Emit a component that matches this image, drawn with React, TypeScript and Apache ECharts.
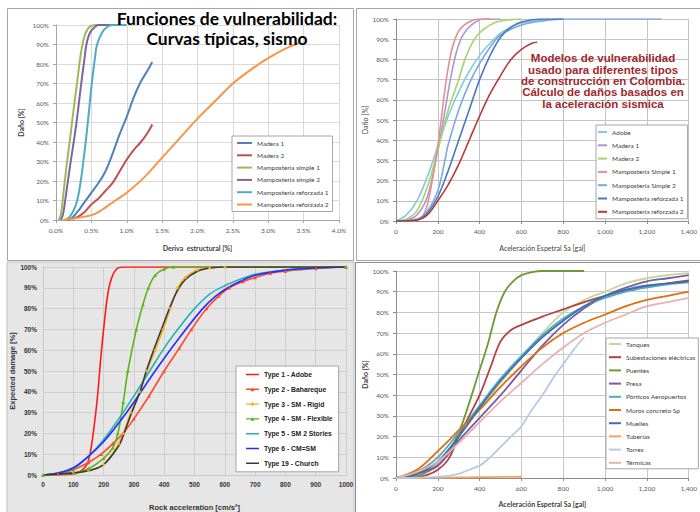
import React, { useEffect, useRef } from "react";
import * as echarts from "echarts";

const FONT_C = 'Lato, "Open Sans", sans-serif';
const FONT_A = '"Liberation Sans", Arial, sans-serif';

// ---------- Chart 1: Funciones de vulnerabilidad (deriva) ----------
const c1Title = ["Funciones de vulnerabilidad:", "Curvas típicas, sismo"];
const c1Names = ["Madera 1", "Madera 2", "Mampostería simple 1", "Mampostería simple 2", "Mampostería reforzada 1", "Mampostería reforzada 2"];
const c1Colors = ["#4f81bd", "#c0504d", "#9bbb59", "#8064a2", "#4bacc6", "#f79646"];
const c1XTicks = { min: 0, max: 4, interval: 0.5 };
const c1Madera1 = [[0.1, 0], [0.2, 0.5], [0.3, 4], [0.4, 9], [0.5, 14], [0.6, 19], [0.7, 25], [0.8, 34], [0.9, 44], [1.0, 53], [1.1, 63], [1.2, 71], [1.3, 77], [1.36, 81]];
const c1Madera2 = [[0.15, 0], [0.3, 1.5], [0.4, 4], [0.5, 8], [0.6, 11], [0.7, 15], [0.8, 19], [0.9, 25], [1.0, 31], [1.1, 36], [1.2, 40], [1.3, 45], [1.36, 49]];
const c1Simple1 = [[0.04, 0], [0.07, 3], [0.1, 12], [0.15, 28], [0.2, 42], [0.25, 57], [0.3, 71], [0.35, 85], [0.4, 94], [0.45, 98], [0.5, 99.6], [0.6, 100]];
const c1Simple2 = [[0.07, 0], [0.1, 3], [0.13, 10], [0.2, 28], [0.25, 40], [0.29, 50], [0.35, 68], [0.4, 82], [0.43, 90], [0.48, 96], [0.55, 99], [0.6, 100], [0.9, 100]];
const c1Reforz1 = [[0.14, 0], [0.2, 2], [0.25, 5], [0.3, 10], [0.35, 20], [0.4, 34], [0.45, 50], [0.5, 68], [0.55, 83], [0.58, 90], [0.65, 96], [0.72, 99], [0.8, 100], [1.0, 100]];
const c1Reforz2 = [[0.1, 0], [0.3, 1], [0.5, 2.5], [0.6, 4], [0.7, 6.5], [0.84, 10], [1.0, 14], [1.25, 22], [1.5, 32], [1.75, 42], [2.0, 52], [2.25, 61], [2.5, 70], [2.75, 77], [3.0, 83], [3.25, 88], [3.45, 91]];
const c1Data = [c1Madera1, c1Madera2, c1Simple1, c1Simple2, c1Reforz1, c1Reforz2];

// ---------- Chart 2: Colombia (aceleración espectral) ----------
const c2Names = ["Adobe", "Madera 1", "Madera 2", "Mamposteria Simple 1", "Mamposteria Simple 2", "Mamposteria reforzada 1", "Mamposteria reforzada 2"];
const c2Colors = ["#7ecbe3", "#a997d0", "#a6d36a", "#e58f8f", "#7da7e0", "#4a78c0", "#b83838"];
const c2Adobe = [[0, 0], [50, 3], [100, 10], [150, 22], [200, 37], [250, 52], [300, 64], [350, 74], [400, 82], [450, 88], [500, 93], [550, 96], [600, 98], [700, 99.5], [800, 100]];
const c2Madera1 = [[0, 0], [50, 0.5], [100, 3], [150, 12], [200, 35], [230, 52], [260, 70], [290, 84], [320, 92], [360, 97], [420, 100], [500, 100]];
const c2Madera2 = [[0, 0], [50, 1], [100, 5], [150, 17], [200, 35], [250, 55], [300, 70], [330, 80], [375, 90], [420, 95], [480, 98.5], [550, 99.7], [600, 100]];
const c2Simple1 = [[0, 0], [100, 0.5], [130, 3], [150, 8], [170, 18], [190, 30], [210, 45], [230, 62], [250, 76], [270, 86], [300, 94], [340, 98], [400, 100], [450, 100]];
const c2Simple2 = [[0, 0], [100, 1], [150, 5], [200, 15], [230, 28], [250, 38], [300, 55], [350, 68], [400, 78], [450, 86], [500, 92], [600, 97], [700, 99], [800, 100], [1270, 100]];
const c2Reforz1 = [[0, 0], [100, 0.5], [150, 4], [200, 12], [250, 25], [300, 40], [350, 55], [400, 70], [450, 82], [500, 91], [550, 96], [600, 98.5], [700, 100], [800, 100]];
const c2Reforz2 = [[0, 0], [100, 0.5], [150, 3], [200, 10], [250, 18], [300, 28], [350, 40], [400, 52], [450, 63], [500, 72], [550, 80], [600, 85], [650, 88], [675, 88.5]];
const c2Data = [c2Adobe, c2Madera1, c2Madera2, c2Simple1, c2Simple2, c2Reforz1, c2Reforz2];
const c2Note = "Modelos de vulnerabilidad\nusado para diferentes tipos\nde construcción en Colombia.\nCálculo de daños basados en\nla aceleración sismica";

// ---------- Chart 3: Expected damage vs rock acceleration ----------
const c3Names = ["Type 1 - Adobe", "Type 2 - Bahareque", "Type 3 - SM - Rigid", "Type 4 - SM - Flexible", "Type 5 - SM 2 Stories", "Type 6 - CM=SM", "Type 19 - Church"];
const c3Colors = ["#ff1a1a", "#ff4a2a", "#f2b01e", "#5cb515", "#22b5b0", "#2a2aff", "#3a3a3a"];
const c3Symbols = ["none", "triangle", "diamond", "triangle", "none", "none", "none"];
const c3Type1 = [[0, 0], [100, 0.5], [140, 4], [155, 10], [170, 25], [180, 38], [190, 55], [200, 70], [215, 88], [230, 96], [250, 99.7], [270, 100], [1000, 100]];
const c3Type2 = [[0, 0], [50, 0.5], [100, 2.5], [150, 6], [192, 10], [230, 15], [264, 20], [300, 27], [350, 38], [400, 50], [450, 61], [490, 70], [540, 80], [580, 86], [615, 90], [660, 93], [700, 95], [750, 97], [800, 98], [900, 99.3], [1000, 100]];
const c3Type3 = [[0, 0], [100, 1], [150, 2], [200, 5], [250, 15], [265, 20], [290, 30], [320, 40], [343, 50], [370, 60], [396, 70], [420, 80], [445, 90], [470, 95], [510, 98.5], [550, 99.5], [600, 100], [1000, 100]];
const c3Type4 = [[0, 0], [100, 1], [150, 3], [200, 8], [230, 13], [247, 20], [265, 35], [280, 50], [308, 70], [330, 82], [348, 90], [370, 96], [400, 99], [430, 100], [1000, 100]];
const c3Type5 = [[0, 0], [50, 1], [100, 3], [150, 9], [200, 17], [250, 27], [300, 38], [352, 50], [400, 61], [450, 71], [500, 80], [550, 87], [600, 91], [650, 94], [700, 96.5], [800, 98.5], [900, 99.5], [1000, 100]];
const c3Type6 = [[0, 0], [50, 1], [100, 3.5], [150, 9], [200, 16], [250, 25], [300, 35], [370, 50], [450, 66], [527, 80], [570, 86], [610, 90], [650, 93], [700, 96], [800, 98.5], [900, 99.5], [1000, 100]];
const c3Type19 = [[0, 0], [100, 1], [150, 2], [200, 5], [250, 14], [265, 19], [290, 29], [320, 40], [343, 51], [370, 62], [396, 72], [420, 81], [445, 89], [470, 94], [510, 98], [550, 99.5], [600, 100], [1000, 100]];
const c3Data = [c3Type1, c3Type2, c3Type3, c3Type4, c3Type5, c3Type6, c3Type19];

// ---------- Chart 4: Infraestructura ----------
const c4Names = ["Tanques", "Subestaciones eléctricas", "Puentes", "Presa", "Pórticos Aeropuertos", "Muros concreto Sp", "Muelles", "Tuberías", "Torres", "Térmicas"];
const c4Colors = ["#c4d79b", "#b5403d", "#6e9a36", "#7a5aa6", "#4bacc6", "#e46c0a", "#3f6fb0", "#f9a35a", "#b4cae8", "#e8b0b0"];
const c4Tanques = [[0, 0], [100, 2], [200, 7], [300, 20], [400, 33], [500, 46], [600, 58], [700, 70], [800, 80], [900, 86], [1000, 90], [1100, 94], [1200, 96.5], [1300, 98], [1400, 99]];
const c4Subest = [[0, 0], [100, 0.5], [150, 1.5], [200, 4], [250, 9], [300, 20], [350, 30], [400, 40], [450, 53], [500, 66], [550, 71.5], [600, 74], [700, 78], [800, 81.5], [900, 85], [1000, 88], [1100, 90.5], [1200, 92.5], [1300, 94], [1400, 95.5]];
const c4Puentes = [[0, 0], [100, 1], [150, 3], [200, 6], [250, 12], [300, 22], [330, 30], [393, 50], [440, 65], [480, 80], [520, 90], [560, 95], [600, 98], [650, 99.5], [700, 100], [900, 100]];
const c4Presa = [[0, 0], [100, 2], [200, 6], [300, 18], [400, 29], [500, 40], [600, 52], [700, 64], [800, 74], [900, 82], [1000, 88], [1100, 92], [1200, 95], [1300, 96.5], [1400, 98]];
const c4Porticos = [[0, 0], [100, 3], [200, 10], [300, 22], [400, 35], [500, 48], [600, 59], [700, 69], [800, 77], [900, 83], [1000, 87], [1100, 90], [1200, 92], [1300, 93.5], [1400, 94.5]];
const c4Muros = [[0, 0], [100, 4], [200, 13], [300, 23], [400, 33], [500, 44], [600, 54], [700, 63], [800, 70], [900, 75], [1000, 79], [1100, 83], [1200, 86], [1300, 88], [1400, 90]];
const c4Muelles = [[0, 0], [100, 2], [200, 8], [300, 20], [400, 34], [500, 47], [600, 58], [700, 68], [800, 76], [900, 83], [1000, 88], [1100, 91], [1200, 93], [1300, 94], [1400, 95]];
const c4Tuberias = [[0, 0], [100, 0.1], [200, 0.2], [300, 0.3], [400, 0.4], [500, 0.5], [600, 0.6]];
const c4Torres = [[0, 0], [200, 0.5], [300, 2], [350, 4], [400, 6], [450, 10], [500, 15], [550, 20], [600, 25], [650, 33], [700, 40], [750, 48], [800, 55], [850, 62], [900, 68]];
const c4Termicas = [[0, 0], [100, 3], [200, 8], [300, 17], [400, 27], [500, 37], [600, 46], [700, 55], [800, 63], [900, 70], [1000, 75], [1100, 79], [1200, 83], [1300, 85], [1400, 87]];
const c4Data = [c4Tanques, c4Subest, c4Puentes, c4Presa, c4Porticos, c4Muros, c4Muelles, c4Tuberias, c4Torres, c4Termicas];

const pct = (v: number) => v + "%";
const thousands = (v: number) => (v >= 1000 ? Math.floor(v / 1000) + "," + String(v % 1000).padStart(3, "0") : String(v));

// legend icons (13 x 7 box; tiny corner squares fix the bounding box)
const BOX = "M0,0h0.01v0.01h-0.01Z M13,7h-0.01v-0.01h0.01Z ";
const ICON_LINE = "path://" + BOX + "M0,2.8H13V4.2H0Z";
const ICON_TRI = "path://" + BOX + "M0,2.8H13V4.2H0Z M4.6,5.4L6.5,1.6L8.4,5.4Z";
const ICON_DIA = "path://" + BOX + "M0,2.8H13V4.2H0Z M6.5,1.3L8.6,3.5L6.5,5.7L4.4,3.5Z";

function valueAxis(grid: number, min: number, max: number, interval: number, fmt: any, o: any) {
  return {
    gridIndex: grid, type: "value", min, max, interval,
    axisLine: { show: true, lineStyle: { color: o.axisColor, width: 1 } },
    axisTick: { show: o.ticks, length: 3, lineStyle: { color: o.axisColor } },
    splitLine: { show: true, lineStyle: { color: o.gridColor, width: 1 } },
    axisLabel: { formatter: fmt, fontSize: o.fs, color: o.labelColor, fontFamily: o.font, fontWeight: o.bold ? "bold" : "normal", margin: o.margin },
    name: o.name, nameLocation: "middle", nameGap: o.nameGap,
    nameTextStyle: { fontSize: o.nameFs, color: o.nameColor, fontFamily: o.font, fontWeight: o.nameBold ? "bold" : "normal" },
    z: o.z || 0,
  };
}

function legendFor(names: string[], colors: string[], o: any) {
  return {
    orient: "vertical", left: o.left, top: o.top, padding: o.padding, itemGap: o.gap,
    itemWidth: o.iw, itemHeight: o.ih, icon: o.icon,
    backgroundColor: "#ffffff", borderColor: "#a6a6a6", borderWidth: 1, borderRadius: 0,
    textStyle: { fontSize: o.fs, color: o.color, fontFamily: o.font, fontWeight: o.bold ? "bold" : "normal", lineHeight: o.lh },
    data: names.map((n, i) => ({
      name: n,
      icon: o.icons ? o.icons[i] : o.icon,
      itemStyle: { color: colors[i], borderWidth: 0 },
      lineStyle: { color: colors[i] },
    })),
    selectedMode: false, z: o.z || 4,
  };
}

function buildOption() {
  const series: any[] = [];
  const push = (names: string[], colors: string[], data: number[][][], idx: number, width: number, extra: (i: number) => any) => {
    names.forEach((n, i) => {
      series.push({
        type: "line", name: n, data: data[i], xAxisIndex: idx, yAxisIndex: idx,
        smooth: 0.35, symbol: "none",
        lineStyle: { color: colors[i], width }, itemStyle: { color: colors[i] },
        z: idx === 3 ? 5 : 2,
        ...extra(i),
      });
    });
  };
  push(c1Names, c1Colors, c1Data, 0, 2, () => ({}));
  push(c2Names, c2Colors, c2Data, 1, 1.6, () => ({}));
  push(c3Names, c3Colors, c3Data, 2, 1.6, (i) => (c3Symbols[i] === "none" ? {} : { symbol: c3Symbols[i], symbolSize: 3.5, showSymbol: true }));
  push(c4Names, c4Colors, c4Data, 3, 1.8, () => ({}));

  const c1o = { axisColor: "#a6a6a6", gridColor: "#d9d9d9", ticks: true, fs: 6.5, labelColor: "#595959", font: FONT_C, margin: 7, nameFs: 7, nameColor: "#404040", nameBold: true };
  const c2o = { axisColor: "#8c8c8c", gridColor: "#c4c4c4", ticks: true, fs: 6.5, labelColor: "#595959", font: FONT_C, margin: 7, nameFs: 7, nameColor: "#404040", nameBold: false };
  const c3o = { axisColor: "#c8c8c8", gridColor: "#cfcfcf", ticks: false, fs: 6.5, labelColor: "#333333", font: FONT_A, bold: true, margin: 6, nameFs: 7.5, nameColor: "#333333", nameBold: true };
  const c4o = { axisColor: "#8c8c8c", gridColor: "#c8c8c8", ticks: true, fs: 6.5, labelColor: "#595959", font: FONT_C, margin: 7, nameFs: 7, nameColor: "#404040", nameBold: true, z: 3 };

  const c3Icons = c3Symbols.map((s) => (s === "triangle" ? ICON_TRI : s === "diamond" ? ICON_DIA : ICON_LINE));
  const titleStyle = (t: string) => ({ text: t, fill: "#000000", font: "bold 17.5px " + FONT_C, align: "center", verticalAlign: "middle" });

  return {
    animation: false,
    graphic: {
      elements: [
        { type: "rect", z: -10, shape: { x: 7.5, y: 8.5, width: 346, height: 252 }, style: { fill: "#ffffff", stroke: "#a6a6a6", lineWidth: 1 } },
        { type: "rect", z: -10, shape: { x: 356.5, y: 8.5, width: 360, height: 252 }, style: { fill: "#ffffff", stroke: "#a6a6a6", lineWidth: 1 } },
        { type: "rect", z: -10, shape: { x: 7, y: 262, width: 347, height: 260 }, style: { fill: "#e6e6e6", stroke: "#bdbdbd", lineWidth: 1 } },
        { type: "rect", z: -10, shape: { x: 355.5, y: 262.5, width: 360, height: 260 }, style: { fill: "#ffffff", stroke: "#8c8c8c", lineWidth: 1 } },
        { type: "text", z: 100, x: 227, y: 18, style: titleStyle(c1Title[0]) },
        { type: "text", z: 100, x: 227, y: 38, style: titleStyle(c1Title[1]) },
        {
          type: "text", z: 100, x: 603, y: 52.5,
          style: { text: c2Note, fill: "#a0282d", font: "bold 11.5px " + FONT_A, align: "center", verticalAlign: "top", lineHeight: 11.4 },
        },
      ],
    },
    grid: [
      { left: 56, top: 25, width: 283, height: 195 },
      { left: 396, top: 19, width: 293, height: 202 },
      { left: 43, top: 267, width: 303, height: 221 },
      { left: 396, top: 271, width: 294, height: 207 },
    ],
    xAxis: [
      valueAxis(0, c1XTicks.min, c1XTicks.max, c1XTicks.interval, (v: number) => v.toFixed(1) + "%", { ...c1o, name: "Deriva  estructural [%]", nameGap: 24 }),
      valueAxis(1, 0, 1400, 200, thousands, { ...c2o, name: "Aceleración Espetral Sa [gal]", nameGap: 23 }),
      valueAxis(2, 0, 1000, 100, (v: number) => String(v), { ...c3o, name: "Rock acceleration [cm/s²]", nameGap: 28 }),
      valueAxis(3, 0, 1400, 200, thousands, { ...c4o, name: "Aceleración Espetral Sa [gal]", nameGap: 22 }),
    ],
    yAxis: [
      valueAxis(0, 0, 100, 10, pct, { ...c1o, name: "Daño [%]", nameGap: 32 }),
      valueAxis(1, 0, 100, 10, pct, { ...c2o, name: "Daño [%]", nameGap: 24 }),
      valueAxis(2, 0, 100, 10, pct, { ...c3o, name: "Expected damage [%]", nameGap: 25 }),
      valueAxis(3, 0, 100, 10, pct, { ...c4o, name: "Daño [%]", nameGap: 27 }),
    ],
    legend: [
      legendFor(c1Names, c1Colors, { left: 232, top: 136, padding: [3, 4, 3, 5], gap: 4.3, iw: 15, ih: 2, icon: "rect", fs: 6.5, lh: 8, color: "#404040", font: FONT_C }),
      legendFor(c2Names, c2Colors, { left: 596, top: 125, padding: [3, 4, 3, 2], gap: 5.3, iw: 9, ih: 2, icon: "rect", fs: 6.5, lh: 8, color: "#404040", font: FONT_C }),
      legendFor(c3Names, c3Colors, { left: 236, top: 366, padding: [4, 6, 4, 10], gap: 5.8, iw: 13, ih: 7, icons: c3Icons, fs: 6.8, lh: 9, color: "#222222", font: FONT_A, bold: true }),
      legendFor(c4Names, c4Colors, { left: 606, top: 338, padding: [2, 3, 2, 3], gap: 5.2, iw: 12, ih: 2, icon: "rect", fs: 6.5, lh: 8, color: "#404040", font: FONT_C, z: 6 }),
    ],
    series,
  };
}

export default function App() {
  const ref = useRef<HTMLDivElement>(null);
  useEffect(() => {
    if (!ref.current) return;
    const chart = echarts.init(ref.current, undefined, { renderer: "svg" });
    chart.setOption(buildOption() as any);
    return () => chart.dispose();
  }, []);
  return <div ref={ref} style={{ position: "fixed", left: 0, top: 0, width: 700, height: 512, background: "#ffffff" }} />;
}
